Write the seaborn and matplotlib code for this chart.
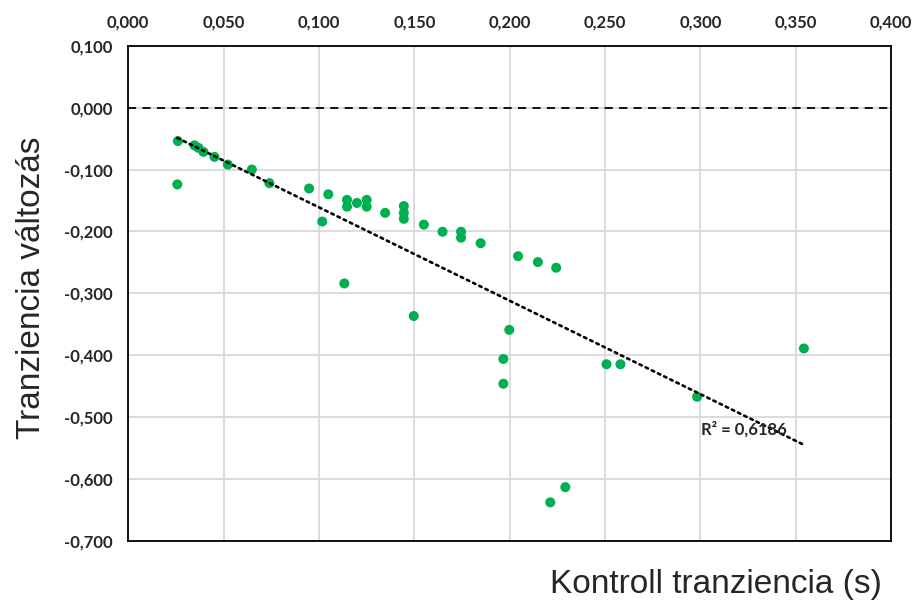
import numpy as np
import pandas as pd
import matplotlib
matplotlib.use("Agg")
import matplotlib.pyplot as plt
import seaborn as sns
from matplotlib.ticker import FuncFormatter

# Data
kontroll = [0.026, 0.0257, 0.0347, 0.0368, 0.0394, 0.0452, 0.0522, 0.0648, 0.074,
            0.0948, 0.1049, 0.1017, 0.1147, 0.1147, 0.1199, 0.125, 0.125, 0.1347,
            0.1133, 0.1445, 0.1445, 0.1445, 0.155, 0.1648, 0.1745, 0.1745, 0.1848,
            0.2044, 0.2148, 0.2244, 0.1497, 0.1998, 0.1967, 0.1967, 0.2508, 0.2581,
            0.2983, 0.3543, 0.2292, 0.2213]
valtozas = [-0.054, -0.124, -0.061, -0.065, -0.0715, -0.0796, -0.092, -0.100, -0.122,
            -0.1306, -0.140, -0.184, -0.149, -0.160, -0.154, -0.149, -0.160, -0.170,
            -0.284, -0.159, -0.170, -0.1796, -0.189, -0.2005, -0.2005, -0.210, -0.219,
            -0.240, -0.2495, -0.2586, -0.3366, -0.359, -0.406, -0.446, -0.4145, -0.4145,
            -0.467, -0.389, -0.613, -0.6376]
x_ticks = [0.0, 0.05, 0.1, 0.15, 0.2, 0.25, 0.3, 0.35, 0.4]
y_ticks = [0.1, 0.0, -0.1, -0.2, -0.3, -0.4, -0.5, -0.6, -0.7]
r2_label = "R² = 0,6186"

df = pd.DataFrame({"x": kontroll, "y": valtozas})

sns.set_style("white")
plt.rcParams['font.family'] = ['Liberation Sans', 'DejaVu Sans']

fig = plt.figure(figsize=(9.14, 6.04), dpi=100)
ax = fig.add_axes([128.3/914, 1-541/604, (891-128.3)/914, (541-45.7)/604])

ax.set_xlim(0, 0.4)
ax.set_ylim(-0.7, 0.1)
ax.set_xticks(x_ticks)
ax.set_yticks(y_ticks)
ax.grid(True, color='#d9d9d9', linewidth=1.3)
ax.set_axisbelow(True)

ax.axhline(0, color='black', linestyle=(0, (4.5, 3.5)), linewidth=1.3, zorder=2)

sns.scatterplot(data=df, x="x", y="y", ax=ax, color='#00B050', s=52,
                edgecolor='none', zorder=3, legend=False)
sns.regplot(data=df, x="x", y="y", ax=ax, scatter=False, ci=None, truncate=True,
            line_kws=dict(color='black', linestyle=(0, (1, 1.6)), linewidth=1.9,
                          zorder=4, dash_capstyle='round'))

ax.text(0.3004, -0.519, r2_label, fontsize=12, fontweight='bold', family='Lato',
        ha='left', va='center', zorder=5)

fmt = FuncFormatter(lambda v, p: f"{v:.3f}".replace('.', ',').replace('-0,000', '0,000'))
ax.xaxis.set_major_formatter(fmt)
ax.yaxis.set_major_formatter(fmt)
ax.xaxis.tick_top()
ax.tick_params(axis='both', length=0, labelsize=12)
ax.tick_params(axis='x', pad=11)
ax.tick_params(axis='y', pad=11)
for lab in ax.get_xticklabels() + ax.get_yticklabels():
    lab.set_fontweight('bold')
    lab.set_family('Lato')

for sp in ax.spines.values():
    sp.set_visible(True)
    sp.set_color('black')
    sp.set_linewidth(1.3)

ax.set_xlabel("")
ax.set_ylabel("")
fig.text(716/914, 1-585/604, "Kontroll tranziencia (s)", fontsize=24, ha='center', va='center')
fig.text(32/914, 1-288/604, "Tranziencia változás", fontsize=24, ha='center', va='center',
         rotation=90)

fig.savefig("out.png", dpi=100)
